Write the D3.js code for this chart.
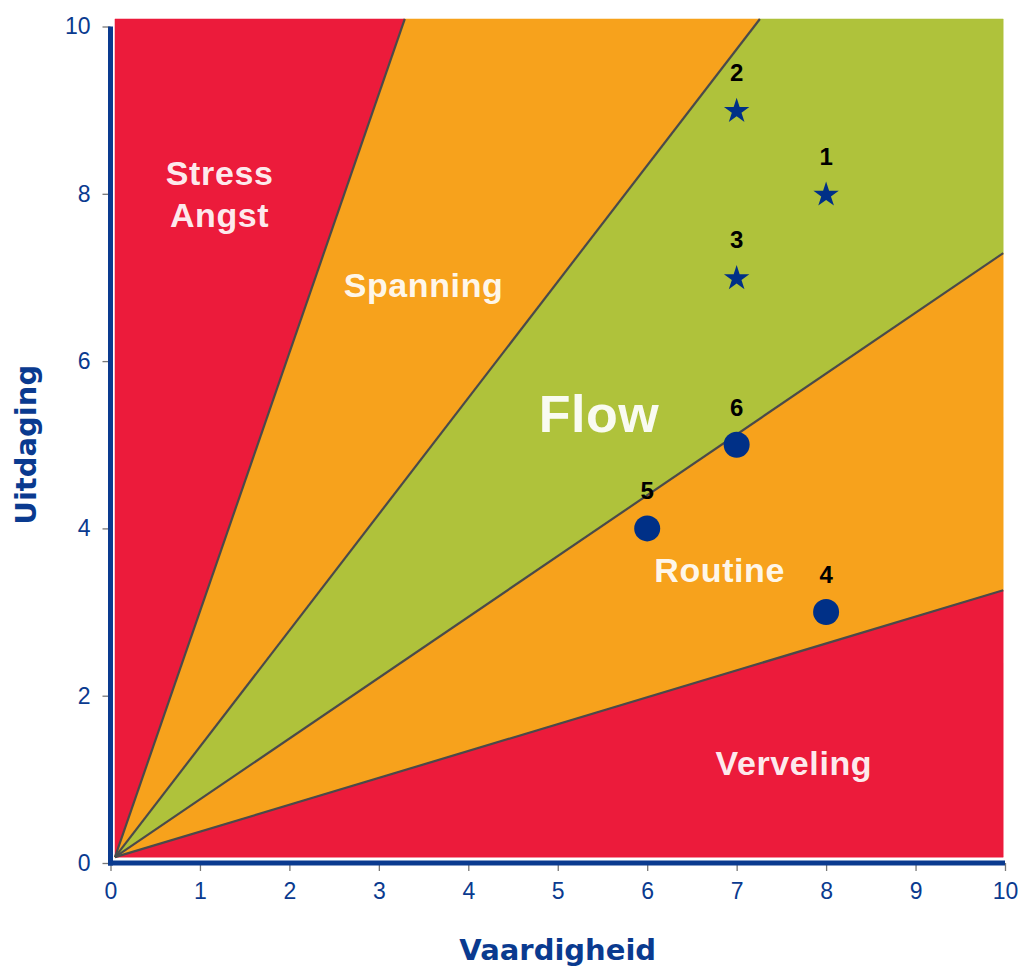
<!DOCTYPE html>
<html><head><meta charset="utf-8">
<script src="https://cdn.jsdelivr.net/npm/d3@7"></script>
<style>body{margin:0;background:#fff}svg{display:block;font-family:"Liberation Sans",Arial,sans-serif}</style>
</head><body><svg id="c" width="1022" height="967"></svg>
<script>
// ---- data ----
const xTicks = [0,1,2,3,4,5,6,7,8,9,10];
const yTicks = [0,2,4,6,8,10];
// boundary rays from origin, given by where they leave the plot (data coords)
const boundaryEnds = [[3.29,10.09],[7.26,10.09],[9.98,7.29],[9.98,3.26]];
const zoneNames = ["Stress Angst","Spanning","Flow","Routine","Verveling"];
const zoneColors = ["#ec1b3b","#f7a21c","#afc23b","#f7a21c","#ec1b3b"];
const zoneLabelPos = [[1.22,8.10],[3.5,6.77],[5.46,5.15],[6.81,3.36],[7.64,1.05]];
const pointIds = ["1","2","3","4","5","6"];
const pointX = [8,7,7,8,6,7];
const pointY = [8,9,7,3,4,5];
const pointShape = ["star","star","star","circle","circle","circle"];

const svg = d3.select("#c");
const x = d3.scaleLinear().domain([0,10]).range([110.5,1005]);
const y = d3.scaleLinear().domain([0,10]).range([863,26.5]);
const blue = "#0a3a8f";

// zones
const origin=[0.05,0.07], xmax=9.98, ymax=10.09;
const polys = [
  [origin,[0.05,ymax],boundaryEnds[0]],
  [origin,boundaryEnds[0],boundaryEnds[1]],
  [origin,boundaryEnds[1],[xmax,ymax],boundaryEnds[2]],
  [origin,boundaryEnds[2],boundaryEnds[3]],
  [origin,boundaryEnds[3],[xmax,0.07]]
];
const line = d3.line().x(d=>x(d[0])).y(d=>y(d[1]));
svg.append("g").selectAll("path").data(polys).join("path")
  .attr("d",d=>line(d)+"Z").attr("fill",(d,i)=>zoneColors[i]).attr("stroke",(d,i)=>zoneColors[i]).attr("stroke-width",0.5);
svg.append("g").selectAll("line").data(boundaryEnds).join("line")
  .attr("x1",x(origin[0])).attr("y1",y(origin[1]))
  .attr("x2",d=>x(d[0])).attr("y2",d=>y(d[1]))
  .attr("stroke","#4a4a4a").attr("stroke-width",2.2);

// zone labels
const zl = svg.append("g").attr("fill","#fff").attr("fill-opacity",0.93).attr("font-weight","bold").attr("text-anchor","middle");
zoneNames.forEach((n,i)=>{
  const [px,py]=zoneLabelPos[i];
  const t = zl.append("text").attr("x",x(px)).attr("y",y(py)).attr("font-size", n==="Flow"?52:34).attr("letter-spacing", n==="Flow"?0.5:0.6);
  if(n==="Stress Angst"){
    t.append("tspan").attr("x",x(px)).text("Stress");
    t.append("tspan").attr("x",x(px)).attr("dy",42).text("Angst");
  } else t.text(n);
});

// axes
const xa = svg.append("g").attr("transform",`translate(0,${y(0)})`).call(d3.axisBottom(x).tickValues(xTicks).tickSize(8).tickPadding(12).tickFormat(d3.format("d")));
const ya = svg.append("g").attr("transform",`translate(${x(0)},0)`).call(d3.axisLeft(y).tickValues(yTicks).tickSize(8).tickPadding(12).tickFormat(d3.format("d")));
[xa,ya].forEach(a=>{
  a.select(".domain").remove();
  a.selectAll(".tick line").attr("stroke","#777").attr("stroke-width",1.3);
  a.selectAll(".tick text").attr("fill",blue).attr("font-size",23).attr("font-family","Liberation Sans, Arial, sans-serif");
});
xa.selectAll(".tick line").attr("y1",0);
svg.append("line").attr("x1",x(0)).attr("x2",x(0)).attr("y1",y(10)).attr("y2",y(0)+2.5).attr("stroke",blue).attr("stroke-width",5);
svg.append("line").attr("x1",x(0)-2.5).attr("x2",x(10)).attr("y1",y(0)).attr("y2",y(0)).attr("stroke",blue).attr("stroke-width",5);

// axis titles
svg.append("text").attr("x",(x(0)+x(10))/2).attr("y",960).attr("text-anchor","middle").attr("fill",blue)
  .attr("font-weight","bold").attr("font-size",29).attr("font-family","DejaVu Sans, sans-serif").text("Vaardigheid");
svg.append("text").attr("transform",`translate(36,${(y(0)+y(10))/2}) rotate(-90)`).attr("text-anchor","middle").attr("fill",blue)
  .attr("font-weight","bold").attr("font-size",29).attr("font-family","DejaVu Sans, sans-serif").text("Uitdaging");

// points
const pts = pointIds.map((id,i)=>({id,x:pointX[i],y:pointY[i],s:pointShape[i]}));
const star = d3.symbol().type(d3.symbolStar).size(200);
const pg = svg.append("g");
pg.selectAll("path").data(pts.filter(d=>d.s==="star")).join("path")
  .attr("d",star).attr("transform",d=>`translate(${x(d.x)},${y(d.y)+1})`).attr("fill","#003087");
pg.selectAll("circle").data(pts.filter(d=>d.s==="circle")).join("circle")
  .attr("cx",d=>x(d.x)).attr("cy",d=>y(d.y)).attr("r",13).attr("fill","#003087");
pg.selectAll("text").data(pts).join("text")
  .attr("x",d=>x(d.x)).attr("y",d=>y(d.y)-29).attr("text-anchor","middle").attr("font-weight","bold")
  .attr("font-size",24).attr("fill","#000").text(d=>d.id);
</script></body></html>
